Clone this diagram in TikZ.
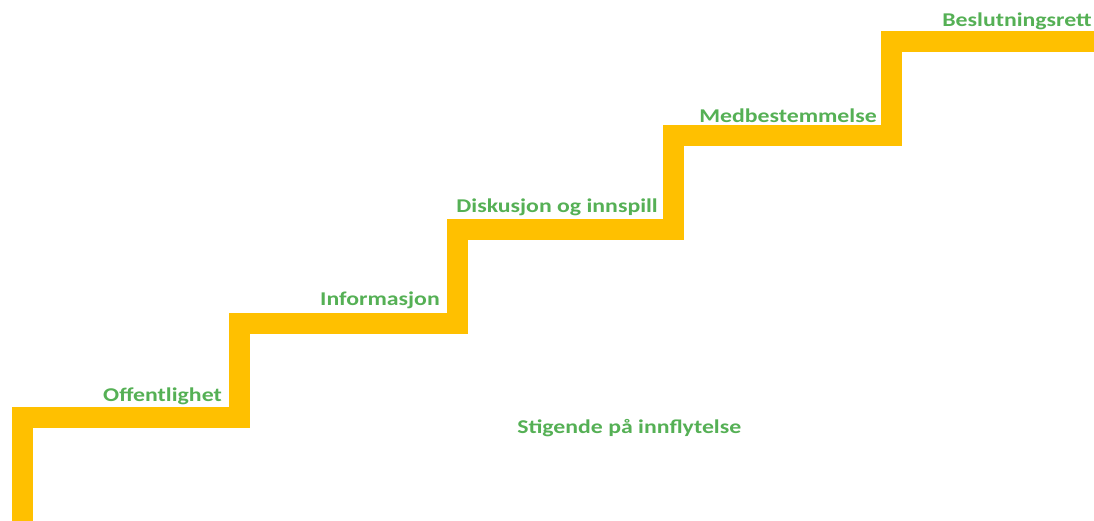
\documentclass[tikz,border=0pt]{standalone}
\usepackage{fontspec}
\setmainfont{Carlito}
\definecolor{stairgold}{HTML}{FFC000}
\definecolor{labelgreen}{HTML}{55B055}
\begin{document}
\begin{tikzpicture}[x=1pt,y=-1pt,
  stair/.style={draw=stairgold,line width=21pt,line join=miter,line cap=butt},
  lbl/.style={text=labelgreen,font=\bfseries\fontsize{19.5}{22}\selectfont,inner sep=0pt,xscale=1.22}]
\useasboundingbox (0,0) rectangle (1094,520);
\path[stair] (22.5,530) -- (22.5,417) -- (239,417) -- (239,323) -- (457,323) -- (457,229.5)
  -- (673,229.5) -- (673,135) -- (891,135) -- (891,41) -- (1104,41);
\node[lbl,anchor=base east] (s1) at (222,401) {Offentlighet};
\node[lbl,anchor=base east] (s2) at (440,305) {Informasjon};
\node[lbl,anchor=base east] (s3) at (658,212) {Diskusjon og innspill};
\node[lbl,anchor=base east] (s4) at (877,122) {Medbestemmelse};
\node[lbl,anchor=base east] (s5) at (1092,26) {Beslutningsrett};
\node[lbl,anchor=base west] (t) at (517,433) {Stigende på innflytelse};
\end{tikzpicture}
\end{document}
